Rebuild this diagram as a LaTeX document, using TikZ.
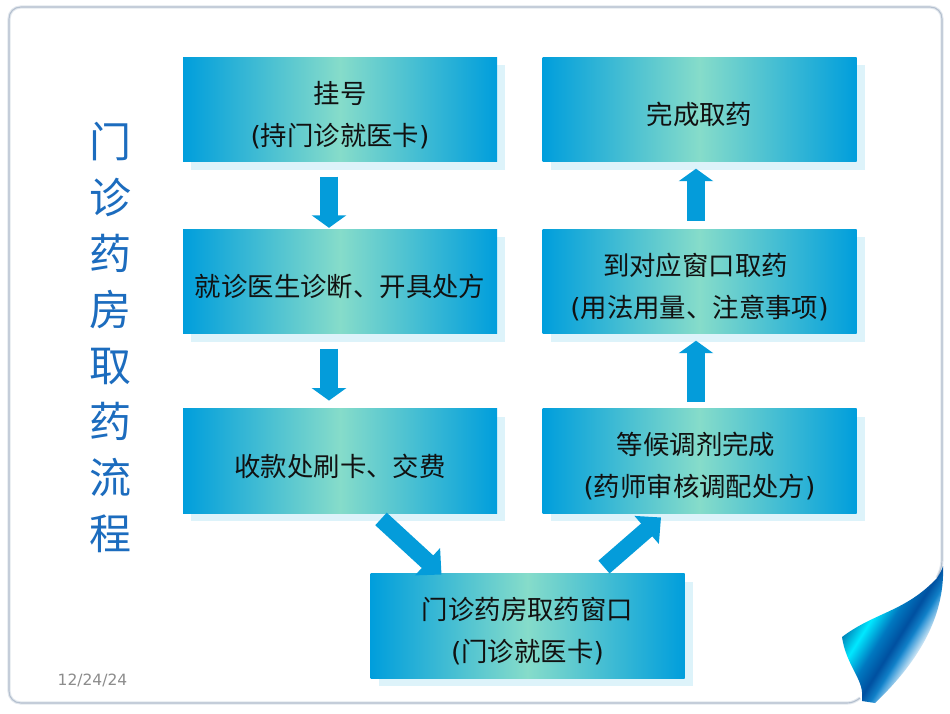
\documentclass[tikz,border=0pt]{standalone}
\usepackage{fontspec}
\setmainfont{Noto Sans CJK SC}
\newfontfamily\djv{DejaVu Sans}
\usetikzlibrary{arrows.meta,calc}
\definecolor{boxedge}{HTML}{009EDC}
\definecolor{boxmid}{HTML}{86DCCA}
\definecolor{boxshadow}{HTML}{DDF3FA}
\definecolor{arrowblue}{HTML}{049CDA}
\definecolor{titleblue}{HTML}{1C6CBE}
\definecolor{txt}{HTML}{111111}
\definecolor{frameouter}{HTML}{E3E8EE}
\definecolor{frameinner}{HTML}{B4C0CF}
\newcommand{\lp}{{\djv(}}
\newcommand{\rp}{{\djv)}}
\newcommand{\tl}[1]{\raisebox{-5.5pt}[\height][\depth]{#1}}
\definecolor{c0}{HTML}{0088BB}
\definecolor{c1}{HTML}{00E8FF}
\definecolor{c2}{HTML}{0078C0}
\definecolor{c3}{HTML}{0050A0}
\definecolor{c4}{HTML}{1080C8}
\definecolor{c5}{HTML}{3A9AD8}
\pgfdeclarehorizontalshading{curlfade}{100bp}{
 color(0bp)=(c0); color(39.5bp)=(c0); color(43.3bp)=(c1); color(47.8bp)=(c2);
 color(51.5bp)=(c3); color(54bp)=(c4); color(54.8bp)=(c5); color(58.3bp)=(white); color(100bp)=(white)}
\tikzset{
 flowbox/.style={rectangle,inner sep=0pt,minimum width=314pt,minimum height=104.5pt,
   left color=boxedge,right color=boxedge,middle color=boxmid,shading angle=90,
   text=txt,align=center,font=\fontsize{26.4}{42}\selectfont},
 flowshadow/.style={fill=boxshadow},
 blockarrow/.style={draw=arrowblue,line width=18pt,-{Triangle[width=34pt,length=12.5pt]}},
 diagarrow/.style={draw=arrowblue,line width=17pt,-{Triangle[width=36pt,length=19pt]}},
}
\begin{document}
\begin{tikzpicture}[x=1pt,y=-1pt]
\useasboundingbox (0,0) rectangle (950,713);
\fill[white] (0,0) rectangle (950,713);
% page frame
\def\pagepath{(860,698) .. controls (856,701) and (852,703) .. (847,703) -- (21,703)
  .. controls (14,703) and (9,698) .. (9,691) -- (9,19)
  .. controls (9,12) and (14,7) .. (21,7) -- (930,7)
  .. controls (937,7) and (942,12) .. (942,19) -- (942,560)
  .. controls (942,567) and (940,572) .. (937,578)}
\draw[frameouter,line width=3.2pt,line join=round] \pagepath;
\draw[frameinner,line width=1.1pt,line join=round] \pagepath;
% curl
\begin{scope}
\clip (842,637) .. controls (875,612) and (905,612) .. (937,578)
  .. controls (940,573) and (942,570) .. (943,566)
  .. controls (945,620) and (915,665) .. (875,703) -- (862,701) -- (862,697)
  .. controls (864,680) and (846,665) .. (842,637) -- cycle;
\shade[shading=curlfade,shading angle=-32] (790,540) rectangle (990,740);
\end{scope}
% shadows
\foreach \x/\y in {340/109.25,340/281.25,340/461,699.5/109.25,699.5/281.25,699.5/461,527.5/626}
  \fill[flowshadow] (\x-157+8,\y-52.25+8) rectangle (\x+157+8,\y+52.25+8);
% boxes
\node[flowbox] (reg) at (340,109.25) {\tl{挂号}\\\tl{\lp 持门诊就医卡\rp}};
\node[flowbox] (doc) at (340,281.25) {\tl{就诊医生诊断、开具处方}};
\node[flowbox] (pay) at (340,461) {\tl{收款处刷卡、交费}};
\node[flowbox] (win) at (527.5,626) {\tl{门诊药房取药窗口}\\\tl{\lp 门诊就医卡\rp}};
\node[flowbox] (wait) at (699.5,461) {\tl{等候调剂完成\hspace*{7pt}}\\\tl{\lp 药师审核调配处方\rp}};
\node[flowbox] (take) at (699.5,281.25) {\tl{到对应窗口取药\hspace*{8pt}}\\\tl{\lp 用法用量、注意事项\rp}};
\node[flowbox] (done) at (699.5,109.25) {\tl{完成取药}};
% title and date
\node[text=titleblue,align=center,inner sep=0pt,font=\fontsize{42}{56.1}\selectfont] (title) at (110.5,337.5)
 {门\\诊\\药\\房\\取\\药\\流\\程};
\node[text=black!45,inner sep=0pt,font=\djv\fontsize{15.5}{18}\selectfont] (date) at (92.5,680) {12/24/24};
% arrows
\draw[blockarrow,shorten <=15pt,shorten >=1pt] ([xshift=-11pt]reg.south) -- ([xshift=-11pt]doc.north);
\draw[blockarrow,shorten <=15pt,shorten >=8pt] ([xshift=-11pt]doc.south) -- ([xshift=-11pt]pay.north);
\draw[blockarrow,shorten <=8pt,shorten >=7pt] ([xshift=-3.5pt]take.north) -- ([xshift=-3.5pt]done.south);
\draw[blockarrow,shorten <=7pt,shorten >=7pt] ([xshift=-3.5pt]wait.north) -- ([xshift=-3.5pt]take.south);
\coordinate (t1) at ($(pay.south)+(41,5.5)$);
\coordinate (h1) at ($(win.north)+(-86,1)$);
\coordinate (t2) at ($(win.north)+(76.5,-6.5)$);
\coordinate (h2) at ($(wait.south)+(-38.5,4)$);
\draw[diagarrow] (t1) -- (h1);
\draw[diagarrow] (t2) -- (h2);
\end{tikzpicture}
\end{document}
